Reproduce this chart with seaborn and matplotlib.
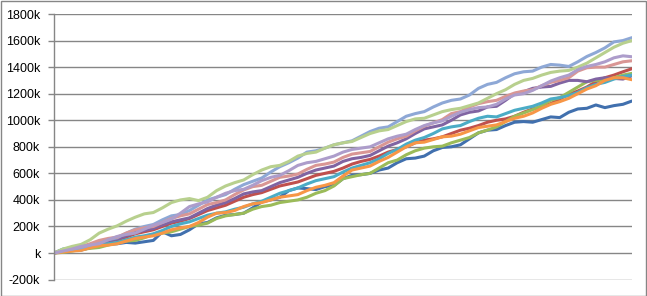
import numpy as np
import pandas as pd
import matplotlib
matplotlib.use("Agg")
import matplotlib.pyplot as plt
import seaborn as sns
from matplotlib.patches import Rectangle

series_names = ["S1", "S2", "S3", "S4", "S5", "S6", "S7", "S8", "S9", "S10"]
# values in thousands, 65 samples per series across the run
s1 = [0,18,20,22,40,58,65,70,80,75,85,95,160,130,140,175,220,230,265,285,290,300,340,385,400,420,470,490,485,478,500,510,560,585,590,600,625,640,680,710,715,730,770,795,800,815,860,905,925,930,960,985,990,985,1005,1025,1020,1060,1085,1090,1115,1095,1110,1120,1145]
s2 = [0,25,35,42,60,80,90,100,120,145,160,175,200,225,240,260,290,320,340,360,390,420,440,455,480,505,520,535,560,585,600,615,640,670,690,705,730,760,780,800,830,850,860,875,900,925,940,960,985,1000,1010,1030,1060,1085,1100,1125,1160,1195,1220,1250,1290,1320,1340,1365,1388]
s3 = [0,5,15,28,35,42,60,78,90,95,115,140,150,160,180,200,210,225,260,280,290,300,330,350,360,380,390,400,420,450,470,505,560,575,590,600,640,680,700,740,770,790,800,805,830,850,870,905,926,950,990,1030,1055,1080,1110,1150,1170,1210,1250,1290,1300,1305,1320,1340,1353]
s4 = [0,15,25,30,50,75,90,105,130,155,170,185,210,235,250,265,300,335,360,380,410,445,460,470,500,530,550,570,600,625,640,655,690,710,720,735,770,805,830,860,900,935,950,965,1000,1040,1060,1070,1100,1105,1150,1200,1215,1240,1250,1255,1280,1300,1300,1290,1310,1320,1315,1310,1335]
s5 = [0,30,40,35,50,65,70,80,100,120,130,145,170,200,220,235,260,285,300,310,330,345,370,390,420,450,470,490,520,545,560,575,610,640,660,680,710,750,780,820,850,870,900,935,950,960,990,1015,1030,1025,1050,1075,1090,1105,1130,1160,1170,1185,1210,1245,1270,1285,1310,1330,1340]
s6 = [0,8,15,20,40,55,60,70,90,110,120,130,150,175,190,200,230,270,300,305,320,350,370,380,400,420,430,440,470,495,510,530,580,625,640,655,690,720,760,800,830,835,855,875,880,895,920,945,955,965,990,1015,1030,1055,1090,1120,1140,1165,1200,1235,1260,1300,1320,1320,1305]
s7 = [0,20,30,40,60,85,100,115,150,180,200,215,250,280,290,320,360,400,420,440,480,515,540,565,610,650,680,715,760,770,790,815,830,845,880,915,940,950,990,1030,1050,1065,1100,1130,1150,1160,1190,1240,1270,1285,1320,1350,1365,1370,1400,1420,1415,1405,1440,1480,1510,1545,1590,1600,1622]
s8 = [0,25,40,50,70,95,110,120,150,175,190,200,230,260,280,295,330,365,380,400,440,475,500,510,540,570,580,595,630,660,670,685,720,745,755,765,800,835,860,880,920,955,980,1005,1050,1065,1100,1125,1140,1150,1180,1205,1220,1230,1260,1285,1300,1320,1370,1395,1400,1400,1420,1440,1448]
s9 = [0,30,50,65,100,150,180,205,240,270,295,305,340,380,400,410,395,420,470,505,530,550,590,625,650,660,690,730,750,760,790,815,830,840,870,900,920,930,960,990,1010,1015,1040,1065,1080,1090,1110,1130,1165,1200,1230,1270,1300,1315,1340,1360,1370,1375,1400,1430,1470,1510,1550,1580,1600]
s10 = [0,15,30,50,60,70,100,125,140,150,180,210,230,255,300,350,370,385,420,450,470,480,510,545,570,585,620,660,680,690,710,730,760,780,790,800,830,860,880,895,930,960,980,995,1030,1060,1080,1095,1100,1120,1160,1190,1200,1225,1260,1295,1320,1340,1380,1405,1420,1440,1470,1485,1478]

ytick_values = [-200, 0, 200, 400, 600, 800, 1000, 1200, 1400, 1600, 1800]
ytick_labels = ["-200k", "k", "200k", "400k", "600k", "800k", "1000k",
                "1200k", "1400k", "1600k", "1800k"]

colors = ["#4170AE", "#C0504D", "#9BBB59", "#8064A2", "#4BACC6", "#F79646",
          "#8EA8D6", "#D99694", "#B8D08E", "#AD9DCB"]

all_series = [s1, s2, s3, s4, s5, s6, s7, s8, s9, s10]
rows = []
for name, vals in zip(series_names, all_series):
    for st, v in enumerate(vals):
        rows.append({"step": st, "value": v * 1000, "series": name})
df = pd.DataFrame(rows)
n_steps = max(len(v) for v in all_series) - 1

sns.set_style("white")
plt.rcParams["font.family"] = ["Liberation Sans", "DejaVu Sans"]

fig = plt.figure(figsize=(6.47, 2.96), dpi=100)
ax = fig.add_axes([54 / 647, 1 - 279.6 / 296, (632 - 54) / 647, (279.6 - 14) / 296])

sns.lineplot(data=df, x="step", y="value", hue="series", palette=colors,
             hue_order=series_names, linewidth=2.2, legend=False, ax=ax,
             estimator=None, sort=True)

ax.set_xlim(0, n_steps)
ax.set_ylim(-200000, 1800000)
ax.set_yticks([v * 1000 for v in ytick_values])
ax.set_yticklabels(ytick_labels)
ax.set_xticks([])
ax.set_xlabel("")
ax.set_ylabel("")
ax.yaxis.grid(True, color="#868686", linewidth=1.0)
ax.set_axisbelow(True)
for side in ["top", "right", "bottom"]:
    ax.spines[side].set_visible(False)
ax.spines["left"].set_color("#868686")
ax.spines["left"].set_linewidth(1.0)
ax.tick_params(axis="y", which="major", length=4, width=1.0, color="#868686",
               labelsize=9, labelcolor="#000000", pad=6, left=True)

fig.patches.append(Rectangle((0.5 / 647, 0.5 / 296), 645.5 / 647, 294.5 / 296,
                             transform=fig.transFigure, fill=False,
                             edgecolor="#868686", linewidth=1.0))

fig.savefig("out.png", dpi=100)
